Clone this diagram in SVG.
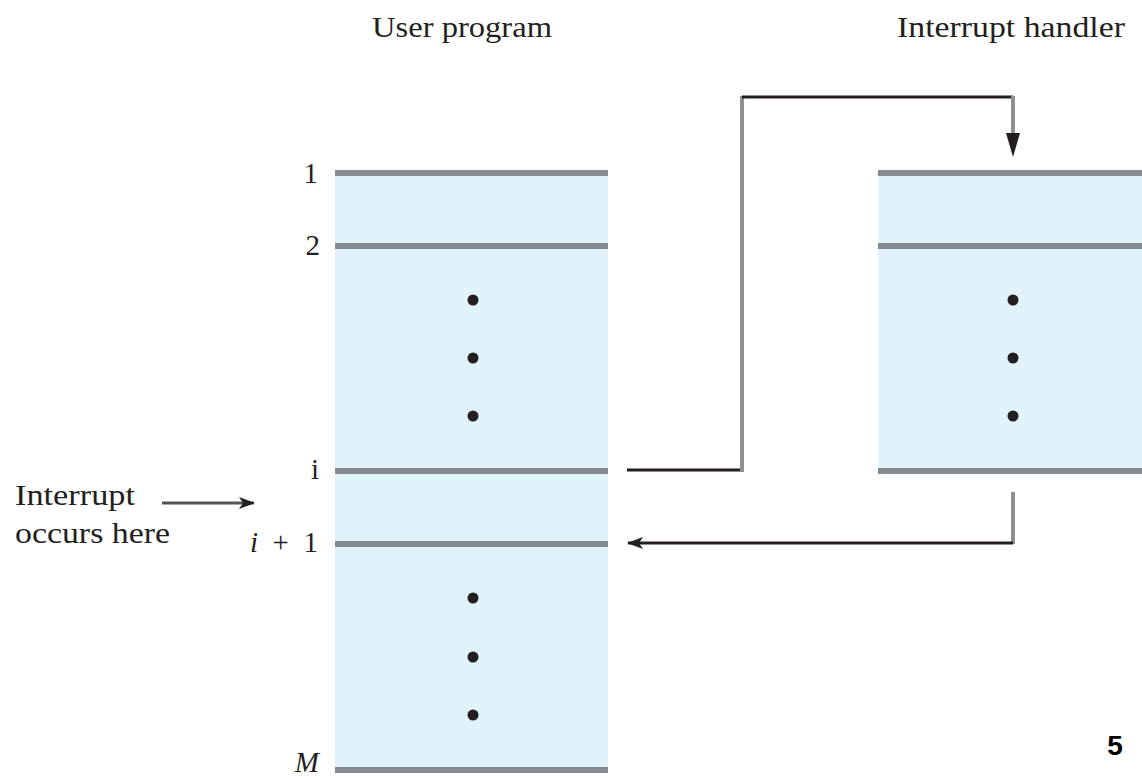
<svg xmlns="http://www.w3.org/2000/svg" width="1142" height="779" viewBox="0 0 1142 779">
<style>
.t{font-family:"Liberation Serif","Times New Roman",serif;font-size:29px;fill:#231f20}
.it{font-style:italic}
.fill{fill:#e0f2fa}
.sep{stroke:#858b8e;stroke-width:6}
.dot{fill:#231f20}
.gv{stroke:#909090;stroke-width:4;fill:none}
.bh{stroke:#231f20;stroke-width:3;fill:none}
</style>
<defs>
<marker id="ah" markerWidth="16" markerHeight="12" refX="15" refY="6" orient="auto" markerUnits="userSpaceOnUse">
<path d="M0,0 L16,6 L0,12 L4,6 Z" fill="#231f20"/>
</marker>
</defs>
<rect width="1142" height="779" fill="#ffffff"/>
<g id="user-program">
<text class="t" x="372" y="37" textLength="180" lengthAdjust="spacingAndGlyphs">User program</text>
<rect class="fill" x="335" y="173" width="273" height="597"/>
<line class="sep" x1="335" y1="173" x2="608" y2="173"/>
<line class="sep" x1="335" y1="246" x2="608" y2="246"/>
<line class="sep" x1="335" y1="471" x2="608" y2="471"/>
<line class="sep" x1="335" y1="544" x2="608" y2="544"/>
<line class="sep" x1="335" y1="770" x2="608" y2="770"/>
<circle class="dot" cx="473" cy="300" r="5.5"/>
<circle class="dot" cx="473" cy="358" r="5.5"/>
<circle class="dot" cx="473" cy="416" r="5.5"/>
<circle class="dot" cx="473" cy="598" r="5.5"/>
<circle class="dot" cx="473" cy="657" r="5.5"/>
<circle class="dot" cx="473" cy="715" r="5.5"/>
<text class="t" x="318" y="183" text-anchor="end">1</text>
<text class="t" x="320" y="255" text-anchor="end">2</text>
<text class="t" x="319" y="479" text-anchor="end">i</text>
<text class="t" x="250" y="552" textLength="68" lengthAdjust="spacing"><tspan class="it">i</tspan> + 1</text>
<text class="t it" x="319" y="772" text-anchor="end">M</text>
</g>
<g id="interrupt-handler">
<text class="t" x="897" y="37" textLength="228" lengthAdjust="spacingAndGlyphs">Interrupt handler</text>
<rect class="fill" x="878" y="173" width="264" height="298"/>
<line class="sep" x1="878" y1="173" x2="1142" y2="173"/>
<line class="sep" x1="878" y1="246" x2="1142" y2="246"/>
<line class="sep" x1="878" y1="471" x2="1142" y2="471"/>
<circle class="dot" cx="1013" cy="300" r="5.5"/>
<circle class="dot" cx="1013" cy="358" r="5.5"/>
<circle class="dot" cx="1013" cy="416" r="5.5"/>
</g>
<g id="interrupt-label">
<text class="t" x="15" y="505" textLength="120" lengthAdjust="spacingAndGlyphs">Interrupt</text>
<text class="t" x="15" y="543" textLength="155" lengthAdjust="spacingAndGlyphs">occurs here</text>
</g>
<g id="connectors">
<line x1="162" y1="503" x2="254" y2="503" stroke="#555555" stroke-width="3" marker-end="url(#ah)"/>
<line class="bh" x1="627" y1="470" x2="742" y2="470"/>
<line class="gv" x1="742" y1="472" x2="742" y2="96"/>
<line class="bh" x1="742" y1="97" x2="1013" y2="97"/>
<line class="gv" x1="1013" y1="96" x2="1013" y2="140"/>
<path d="M1006,133 L1020,133 L1013,157 Z" fill="#231f20"/>
<line class="gv" x1="1013" y1="492" x2="1013" y2="544"/>
<line class="bh" x1="1013" y1="543" x2="628" y2="543" marker-end="url(#ah)"/>
</g>
<text x="1115" y="755" text-anchor="middle" font-family="'Liberation Sans',Arial,sans-serif" font-weight="bold" font-size="28" fill="#000">5</text>
</svg>
